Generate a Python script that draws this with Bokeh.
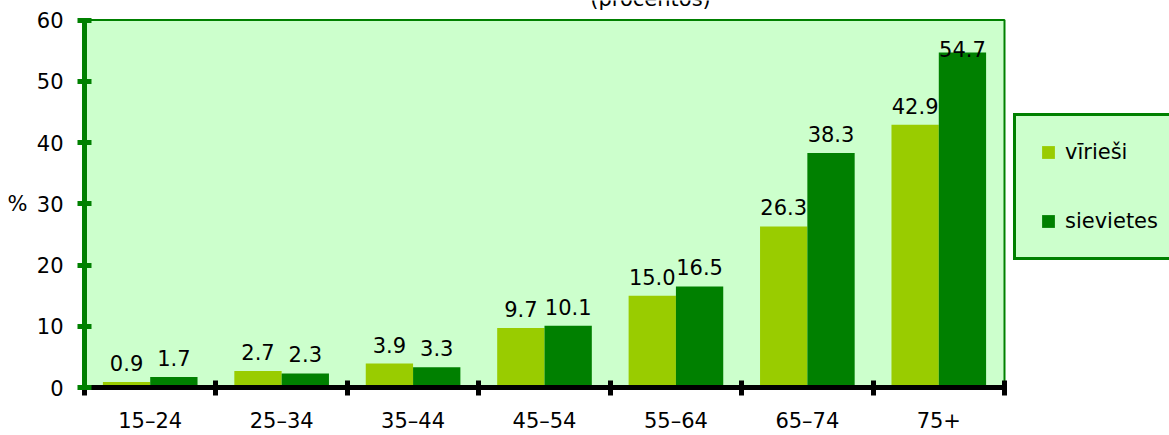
from bokeh.plotting import figure
from bokeh.models import (ColumnDataSource, Range1d, LinearAxis, FixedTicker,
                          Legend, LegendItem, Label, BoxAnnotation)
from bokeh.transform import dodge
from bokeh.core.properties import value
from bokeh.embed import file_html
from bokeh.resources import INLINE

# ---------------- data ----------------
categories = ["15–24", "25–34", "35–44", "45–54", "55–64", "65–74", "75+"]
viriesi = [0.9, 2.7, 3.9, 9.7, 15.0, 26.3, 42.9]
sievietes = [1.7, 2.3, 3.3, 10.1, 16.5, 38.3, 54.7]
series_names = ["vīrieši", "sievietes"]
y_ticks = [0, 10, 20, 30, 40, 50, 60]
title_text = "(procentos)"
y_label = "%"
y_label_at = 30

# ---------------- styling / layout ----------------
FONT = "DejaVu Sans"
FS = "21px"
BG = "#CCFFCC"
C_M = "#99CC00"
C_F = "#008000"
GREEN = "#008000"

W, H = 1169, 435
BL, BB = 84, 48                 # frame: x 84..1169, y 0..387
Y_MAX = y_ticks[-1]
N = len(categories)
frame_w = W - BL
frame_h = H - BB
px_y = (frame_h - 19.5) / Y_MAX          # plot area top sits 19.5px below the canvas top
px_x = 920 / N                            # plot area is 920px wide
y_top = frame_h / px_y
x_end = -0.5 + frame_w / px_x


def label_offsets(vals):
    # labels sit 19px above the bar top, but stay inside the plot area
    return [-min(19.0, (Y_MAX - v) * px_y - 28.5) for v in vals]


idx = list(range(N))
src = ColumnDataSource(dict(
    idx=idx,
    cat=categories,
    m=viriesi,
    f=sievietes,
    m_lab=[f"{v:.1f}" for v in viriesi],
    f_lab=[f"{v:.1f}" for v in sievietes],
    m_off=label_offsets(viriesi),
    f_off=label_offsets(sievietes),
))

p = figure(width=W, height=H,
           x_range=Range1d(-0.5, x_end),
           y_range=Range1d(0, y_top),
           x_axis_type=None, y_axis_type=None,
           output_backend="svg", toolbar_location=None,
           min_border_left=BL, min_border_right=0,
           min_border_top=0, min_border_bottom=BB,
           background_fill_color="white", border_fill_color="white",
           outline_line_color=None)

# plot area (green panel with green border)
p.add_layout(BoxAnnotation(left=-0.5, right=N - 0.5, bottom=0, top=Y_MAX,
                           fill_color=BG, fill_alpha=1.0,
                           line_color=GREEN, line_width=2, line_alpha=1.0,
                           level="underlay"))

r1 = p.vbar(x=dodge("idx", -0.18, range=p.x_range), top="m", width=0.36,
            source=src, fill_color=C_M, line_color=None)
r2 = p.vbar(x=dodge("idx", 0.18, range=p.x_range), top="f", width=0.36,
            source=src, fill_color=C_F, line_color=None)

text_kw = dict(source=src, text_align="center", text_baseline="alphabetic",
               text_font=value(FONT), text_font_size=FS, text_color="black")
p.text(x=dodge("idx", -0.18, range=p.x_range), y="m", text="m_lab",
       y_offset="m_off", **text_kw)
p.text(x=dodge("idx", 0.18, range=p.x_range), y="f", text="f_lab",
       y_offset="f_off", **text_kw)

# x axis: boundaries as (minor) tick marks, category names at centres
xaxis = LinearAxis(
    ticker=FixedTicker(ticks=idx,
                       minor_ticks=[i - 0.5 for i in range(N + 1)]),
    bounds=(-0.5, N - 0.5),
    major_label_overrides={i: c for i, c in enumerate(categories)},
    axis_line_color="black", axis_line_width=5,
    major_tick_line_color=None, major_tick_in=0, major_tick_out=8,
    minor_tick_line_color="black", minor_tick_line_width=5,
    minor_tick_in=7, minor_tick_out=8,
    major_label_standoff=13,
    major_label_text_font=FONT, major_label_text_font_size=FS,
    major_label_text_color="black")
p.add_layout(xaxis, "below")

yaxis = LinearAxis(
    ticker=FixedTicker(ticks=y_ticks, minor_ticks=[]),
    bounds=(0, Y_MAX),
    axis_line_color=GREEN, axis_line_width=5,
    major_tick_line_color=GREEN, major_tick_line_width=5,
    major_tick_in=7, major_tick_out=7,
    minor_tick_line_color=None,
    major_label_standoff=14,
    major_label_text_font=FONT, major_label_text_font_size=FS,
    major_label_text_color="black")
p.add_layout(yaxis, "left")

# "%" axis title, horizontal, beside the 30 tick
pct_axis = LinearAxis(
    ticker=FixedTicker(ticks=[y_label_at], minor_ticks=[]),
    major_label_overrides={y_label_at: y_label},
    axis_line_color=None, major_tick_line_color=None,
    minor_tick_line_color=None, major_tick_in=0, major_tick_out=0,
    major_label_standoff=6,
    major_label_text_font=FONT, major_label_text_font_size=FS,
    major_label_text_color="black")
p.add_layout(pct_axis, "left")

# chart subtitle, cut by the top edge as in the original
p.add_layout(Label(x=-0.5 + 566 / px_x, y=Y_MAX + 21 / px_y, text=title_text,
                   text_align="center", text_baseline="alphabetic",
                   text_font=FONT, text_font_size=FS, text_color="black"))

legend = Legend(
    items=[LegendItem(label=series_names[0], renderers=[r1]),
           LegendItem(label=series_names[1], renderers=[r2])],
    location=(929, 127), margin=0,
    background_fill_color=BG, background_fill_alpha=1.0,
    border_line_color=GREEN, border_line_width=3, border_line_alpha=1.0,
    padding=24, spacing=45, label_height=24,
    glyph_height=16, glyph_width=16, label_standoff=9, label_width=95,
    label_text_font=FONT, label_text_font_size=FS, label_text_color="black")
p.add_layout(legend, "center")

open("out.html", "w").write(file_html(p, INLINE))
